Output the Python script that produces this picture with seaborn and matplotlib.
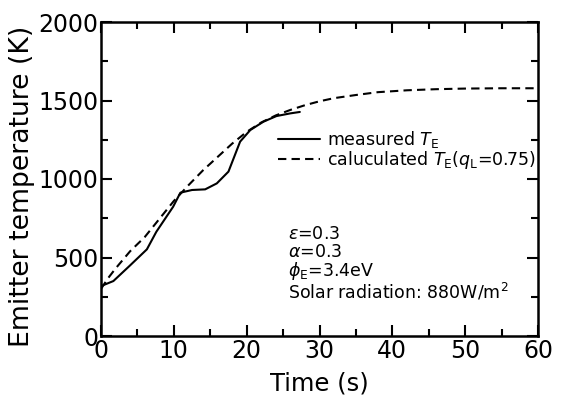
import numpy as np
import matplotlib
matplotlib.use("Agg")
import matplotlib.pyplot as plt
import seaborn as sns
from matplotlib.ticker import MultipleLocator

# measured emitter temperature
t_meas = [0, 1.7, 4.0, 6.3, 7.6, 9.9, 10.9, 12.5, 14.3, 15.9, 17.5, 19.1, 20.5, 22.3, 24.1, 26.0, 27.3]
T_meas = [318, 350, 450, 552, 664, 823, 913, 930, 934, 972, 1047, 1238, 1312, 1365, 1401, 1418, 1427]

# calculated emitter temperature (qL=0.75)
t_calc = [0, 1, 2, 4, 6, 8, 10, 12, 14, 16, 18, 20, 22, 24, 26, 28, 30, 32, 35, 38, 42, 46, 50, 55, 60]
T_calc = [300, 370, 430, 540, 630, 745, 860, 960, 1055, 1140, 1225, 1300, 1360, 1405, 1440,
          1470, 1495, 1515, 1535, 1553, 1565, 1572, 1576, 1578, 1578]

sns.set_style("ticks")
plt.rcParams['font.family'] = ['DejaVu Sans']
plt.rcParams['mathtext.fontset'] = 'dejavusans'
plt.rcParams['text.color'] = 'black'
plt.rcParams['axes.labelcolor'] = 'black'
plt.rcParams['xtick.color'] = 'black'
plt.rcParams['ytick.color'] = 'black'
plt.rcParams['axes.edgecolor'] = 'black'

fig = plt.figure(figsize=(5.7, 4.01), dpi=100)
ax = fig.add_axes([101/570, 1 - 336/401, 437/570, 314/401])

sns.lineplot(x=t_meas, y=T_meas, ax=ax, color="black", lw=1.5, label=r"measured $T_\mathrm{E}$")
sns.lineplot(x=t_calc, y=T_calc, ax=ax, color="black", lw=1.5, linestyle=(0, (4, 2.5)),
             label=r"caluculated $T_\mathrm{E}(q_\mathrm{L}$=0.75)")

ax.set_xlim(0, 60)
ax.set_ylim(0, 2000)
ax.xaxis.set_major_locator(MultipleLocator(10))
ax.xaxis.set_minor_locator(MultipleLocator(5))
ax.yaxis.set_major_locator(MultipleLocator(500))
ax.yaxis.set_minor_locator(MultipleLocator(250))
ax.tick_params(which="both", direction="in", top=True, right=True, width=1.5, labelsize=17, pad=2)
ax.tick_params(which="major", length=8)
ax.tick_params(which="minor", length=5)
for s in ax.spines.values():
    s.set_linewidth(1.8)

ax.set_xlabel("Time (s)", fontsize=17.5, labelpad=6)
ax.set_ylabel("Emitter temperature (K)", fontsize=19.2)
ax.yaxis.set_label_coords(-0.15, 0.475)

ax.legend(loc="upper left", bbox_to_anchor=(0.39, 0.68), frameon=False, fontsize=12.5,
          handlelength=2.4, handletextpad=0.4, labelspacing=-0.1, borderaxespad=0)

ax.text(0.428, 0.23, "$\\varepsilon$=0.3\n$\\alpha$=0.3\n$\\phi_\\mathrm{E}$=3.4eV\nSolar radiation: 880W/m$^2$",
        transform=ax.transAxes, fontsize=12.5, va="center", ha="left", linespacing=0.95)

fig.savefig("out.png", dpi=100)
